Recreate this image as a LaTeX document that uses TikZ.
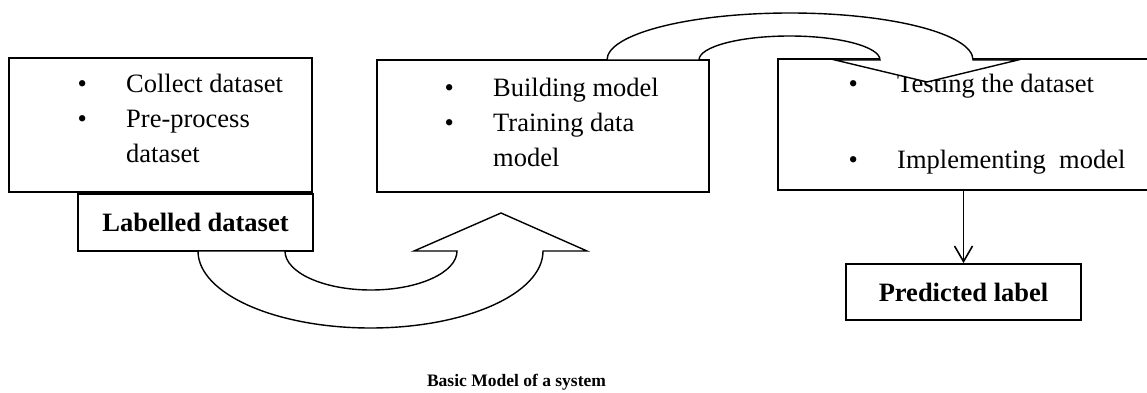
\documentclass[tikz,border=0pt]{standalone}
\usepackage{fontspec}
\setmainfont{Liberation Serif}
\usetikzlibrary{arrows.meta,positioning}
\def\bulletcol{48.5pt}
\def\textsz{\fontsize{26.5}{35}\selectfont}

\begin{document}
\begin{tikzpicture}[x=1pt,y=-1pt,
            stepbox/.style={%
                draw=black, line width=1.7pt, rectangle, inner sep=0pt,%
                font=\textsz\bfseries%
            },
            listtext/.style={%
                anchor=base west, inner sep=0pt, font=\textsz%
            },
            blockarrow/.style={%
                draw=black, fill=white, line width=1.4pt, line join=miter%
            },
            arrow/.style={line width=1.6pt,-{Straight Barb[angle=60:18pt]}}
        ]

        \useasboundingbox (0,0) rectangle (1147,393);

        % Define boxes
        \node (collect) [stepbox, minimum width=303pt, minimum height=134pt]
            at (160.5,125) {};
        \node (labelled) [stepbox, minimum width=235pt, minimum height=57pt]
            at (195.5,222.5) {Labelled dataset\hspace{6pt}};
        \node (build) [stepbox, minimum width=332pt, minimum height=132pt]
            at (543,126) {};
        \node (test) [stepbox, minimum width=372pt, minimum height=131pt]
            at (964,124.5) {};
        \node (predict) [stepbox, minimum width=235pt, minimum height=56pt]
            at (963.5,292) {Predicted label\hspace{20pt}};

        % Box texts
        \node (collect_txt) [listtext] at (77.5,93) {%
            \begin{tabular}[t]{@{}p{\bulletcol}@{}l@{}}
                • & Collect dataset\\
                • & Pre-process\\
                  & dataset
            \end{tabular}
        };
        \node (build_txt) [listtext] at (444.5,97) {%
            \begin{tabular}[t]{@{}p{\bulletcol}@{}l@{}}
                • & Building model\\
                • & Training data\\
                  & model
            \end{tabular}
        };
        \node (test_txt) [listtext] at (848.5,93) {%
            \begin{tabular}[t]{@{}p{\bulletcol}@{}l@{}}
                • & Testing the dataset\\[40pt]
                • & Implementing\ \ model
            \end{tabular}
        };

        \node (caption) [font=\fontsize{17.5}{21}\selectfont\bfseries]
            at (516.5,382) {Basic Model of a system};

        % Block arrows
        \draw [blockarrow]
            (607,60) arc[start angle=180, end angle=360, x radius=183, y radius=47]
            -- (1018,60) -- (927,82) -- (835,60) -- (880,60)
            arc[start angle=0, end angle=-180, x radius=90.5, y radius=24]
            -- cycle;
        \draw [blockarrow]
            (198,251) arc[start angle=180, end angle=0, x radius=172.5, y radius=77]
            -- (587,251) -- (501,213) -- (414,251) -- (457,251)
            arc[start angle=0, end angle=180, x radius=86, y radius=39]
            -- cycle;

        \draw [arrow] (test.south -| predict.north) -- (predict.north);

        \end{tikzpicture}
\end{document}
